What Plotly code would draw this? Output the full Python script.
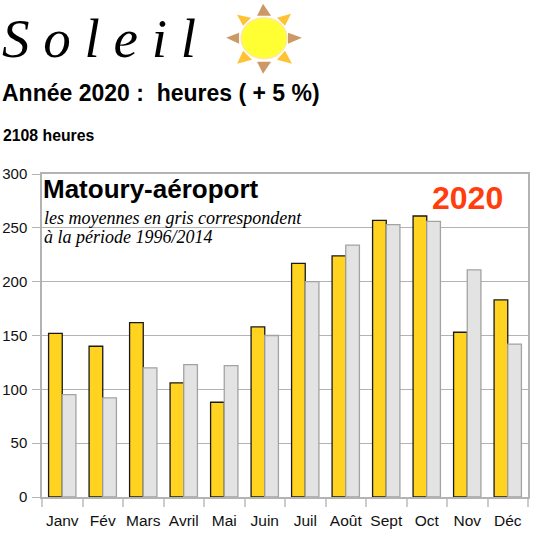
import plotly.graph_objects as go

months = ["Janv", "Fév", "Mars", "Avril", "Mai", "Juin", "Juil", "Août", "Sept", "Oct", "Nov", "Déc"]
sun_2020 = [152, 140, 162, 106, 88, 158, 217, 224, 257, 261, 153, 183]
sun_mean = [95, 92, 120, 123, 122, 150, 200, 234, 253, 256, 211, 142]
y_ticks = [0, 50, 100, 150, 200, 250, 300]

W, H = 539, 544
L, R, T, B = 41.5, 528.5, 173.5, 497
SANS = "Liberation Sans"
SERIF = "Liberation Serif"
GRID = "#b3b3b3"


def px(x):
    return (x - L) / (R - L)


def py(y):
    return (B - y) / (B - T)


fig = go.Figure()
fig.add_bar(x=months, y=sun_2020, marker=dict(color="#ffd320", line=dict(color="#1a1a1a", width=1.3)))
fig.add_bar(x=months, y=sun_mean, marker=dict(color="#e3e3e3", line=dict(color="#a3a3a3", width=1.3)))


def text(x, y, s, size, family=SANS, color="black", bold=False, italic=False):
    fig.add_annotation(
        xref="paper", yref="paper", x=px(x), y=py(y), text=f"<b>{s}</b>" if bold else s,
        showarrow=False, xanchor="left", yanchor="middle", align="left", borderpad=0,
        font=dict(size=size, family=family, color=color, style="italic" if italic else "normal"),
    )


text(0, 38, "S&nbsp;o&nbsp;l&nbsp;e&nbsp;i&nbsp;l", 55, SERIF, italic=True)
text(0, 92, "Année 2020 :&nbsp; heures ( + 5 %)", 23, SANS, bold=True)
text(1, 135, "2108 heures", 15.8, SANS, bold=True)
text(41, 189, "Matoury-aéroport", 26, SANS, bold=True)
text(43, 218, "les moyennes en gris correspondent", 18, SERIF, italic=True)
text(43, 237, "à la période 1996/2014", 18, SERIF, italic=True)
text(431, 198, "2020", 32, SANS, color="#ff3d0d", bold=True)

shapes = [
    dict(type="circle", xref="paper", yref="paper", x0=px(241), x1=px(287), y0=py(17), y1=py(58),
         fillcolor="#ffff33", line=dict(color="#ffe9a0", width=1.5)),
]
tri_brown = [
    [(263, 3), (257, 15), (271, 15)],
    [(263, 73), (257, 61), (271, 61)],
    [(226, 37), (239, 32), (239, 43)],
    [(302, 37), (288, 32), (288, 43)],
]
tri_gold = [
    [(237, 14), (251, 17), (243, 25)],
    [(291, 13), (277, 17), (285, 25)],
    [(237, 63), (243, 50), (252, 59)],
    [(292, 63), (285, 50), (277, 59)],
]
for tris, col in ((tri_brown, "#cc9966"), (tri_gold, "#ffc233")):
    for t in tris:
        path = "M " + " L ".join(f"{px(a):.4f},{py(b):.4f}" for a, b in t) + " Z"
        shapes.append(dict(type="path", xref="paper", yref="paper", path=path, fillcolor=col, line=dict(width=0)))

fig.update_layout(
    width=W, height=H, autosize=False,
    margin=dict(l=L, r=W - R, t=T, b=H - B, pad=0),
    paper_bgcolor="white", plot_bgcolor="white",
    barmode="group", bargap=0.325, bargroupgap=0, showlegend=False,
    font=dict(family=SANS, size=14, color="#111"),
    shapes=shapes,
    xaxis=dict(showgrid=False, ticks="outside", ticklen=8, tickcolor="#cccccc", tickwidth=1.5,
               tickson="boundaries", showline=True, linecolor=GRID, linewidth=1.5, mirror=True,
               tickangle=0, tickfont=dict(size=15.5, family=SANS), ticklabelstandoff=9,
               automargin=False, fixedrange=True),
    yaxis=dict(range=[0, 300], tickvals=y_ticks, showgrid=True, gridcolor=GRID, gridwidth=1.2,
               ticks="outside", ticklen=8, tickcolor=GRID, showline=True, linecolor=GRID, linewidth=1.5,
               mirror=True, zeroline=False, tickfont=dict(size=15, family=SANS), ticklabelstandoff=2,
               automargin=False, fixedrange=True),
)

fig.write_html("out.html", config={"displayModeBar": False},
               post_script="document.body.style.margin='0';")
